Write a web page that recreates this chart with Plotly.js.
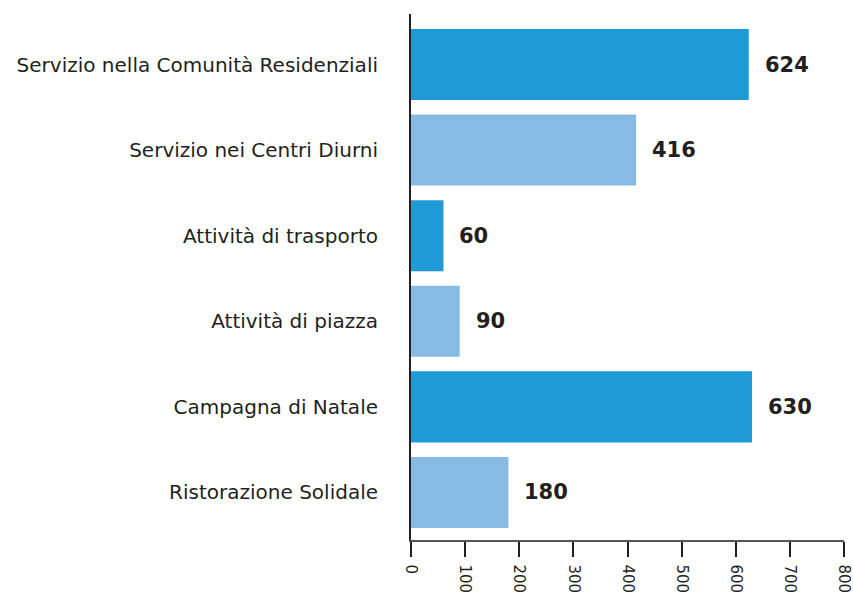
<!DOCTYPE html>
<html>
<head>
<meta charset="utf-8">
<script src="https://cdn.plot.ly/plotly-3.0.1.min.js"></script>
<style>html,body{margin:0;padding:0;background:#fff;}#chart{width:853px;height:595px;}</style>
</head>
<body>
<div id="chart"></div>
<script>
var categories = ["Servizio nella Comunità Residenziali","Servizio nei Centri Diurni","Attività di trasporto","Attività di piazza","Campagna di Natale","Ristorazione Solidale"];
var values = [624, 416, 60, 90, 630, 180];
var barColors = ["#1E9AD6","#88BBE4","#1E9AD6","#88BBE4","#1E9AD6","#88BBE4"];
var tickValues = [0,100,200,300,400,500,600,700,800];

var trace = {
  type: "bar",
  orientation: "h",
  y: categories,
  x: values,
  marker: {color: barColors},
  hoverinfo: "none"
};

var annotations = values.map(function(v, i){
  return {x: v, y: categories[i], xref: "x", yref: "y", text: String(v), showarrow: false,
    xanchor: "left", yanchor: "middle", xshift: 14,
    font: {family: "'DejaVu Sans', sans-serif", size: 21, color: "#231F20", weight: 700}};
});

var layout = {
  width: 853, height: 595,
  margin: {l: 411, r: 9, t: 14, b: 55},
  paper_bgcolor: "#fff", plot_bgcolor: "#fff",
  bargap: 0.17,
  showlegend: false,
  font: {family: "'DejaVu Sans', sans-serif", color: "#231F20"},
  xaxis: {
    range: [0, 800], tickvals: tickValues, ticktext: tickValues.map(String),
    tickangle: 90, ticks: "outside", ticklen: 15, tickwidth: 2, tickcolor: "#231F20",
    showline: true, linecolor: "#555", linewidth: 1.5, showgrid: false, zeroline: false,
    ticklabeloverflow: "allow", ticklabelstandoff: 5,
    tickfont: {size: 15, color: "#231F20"}, fixedrange: true
  },
  yaxis: {
    type: "category", categoryorder: "array", categoryarray: categories,
    range: [5.555, -0.59], showline: true, linecolor: "#231F20", linewidth: 2,
    showgrid: false, zeroline: false, ticks: "", ticklabelstandoff: 27,
    tickfont: {size: 20, color: "#231F20"}
  },
  annotations: annotations
};

Plotly.newPlot("chart", [trace], layout, {displayModeBar: false, staticPlot: true});
</script>
</body>
</html>
